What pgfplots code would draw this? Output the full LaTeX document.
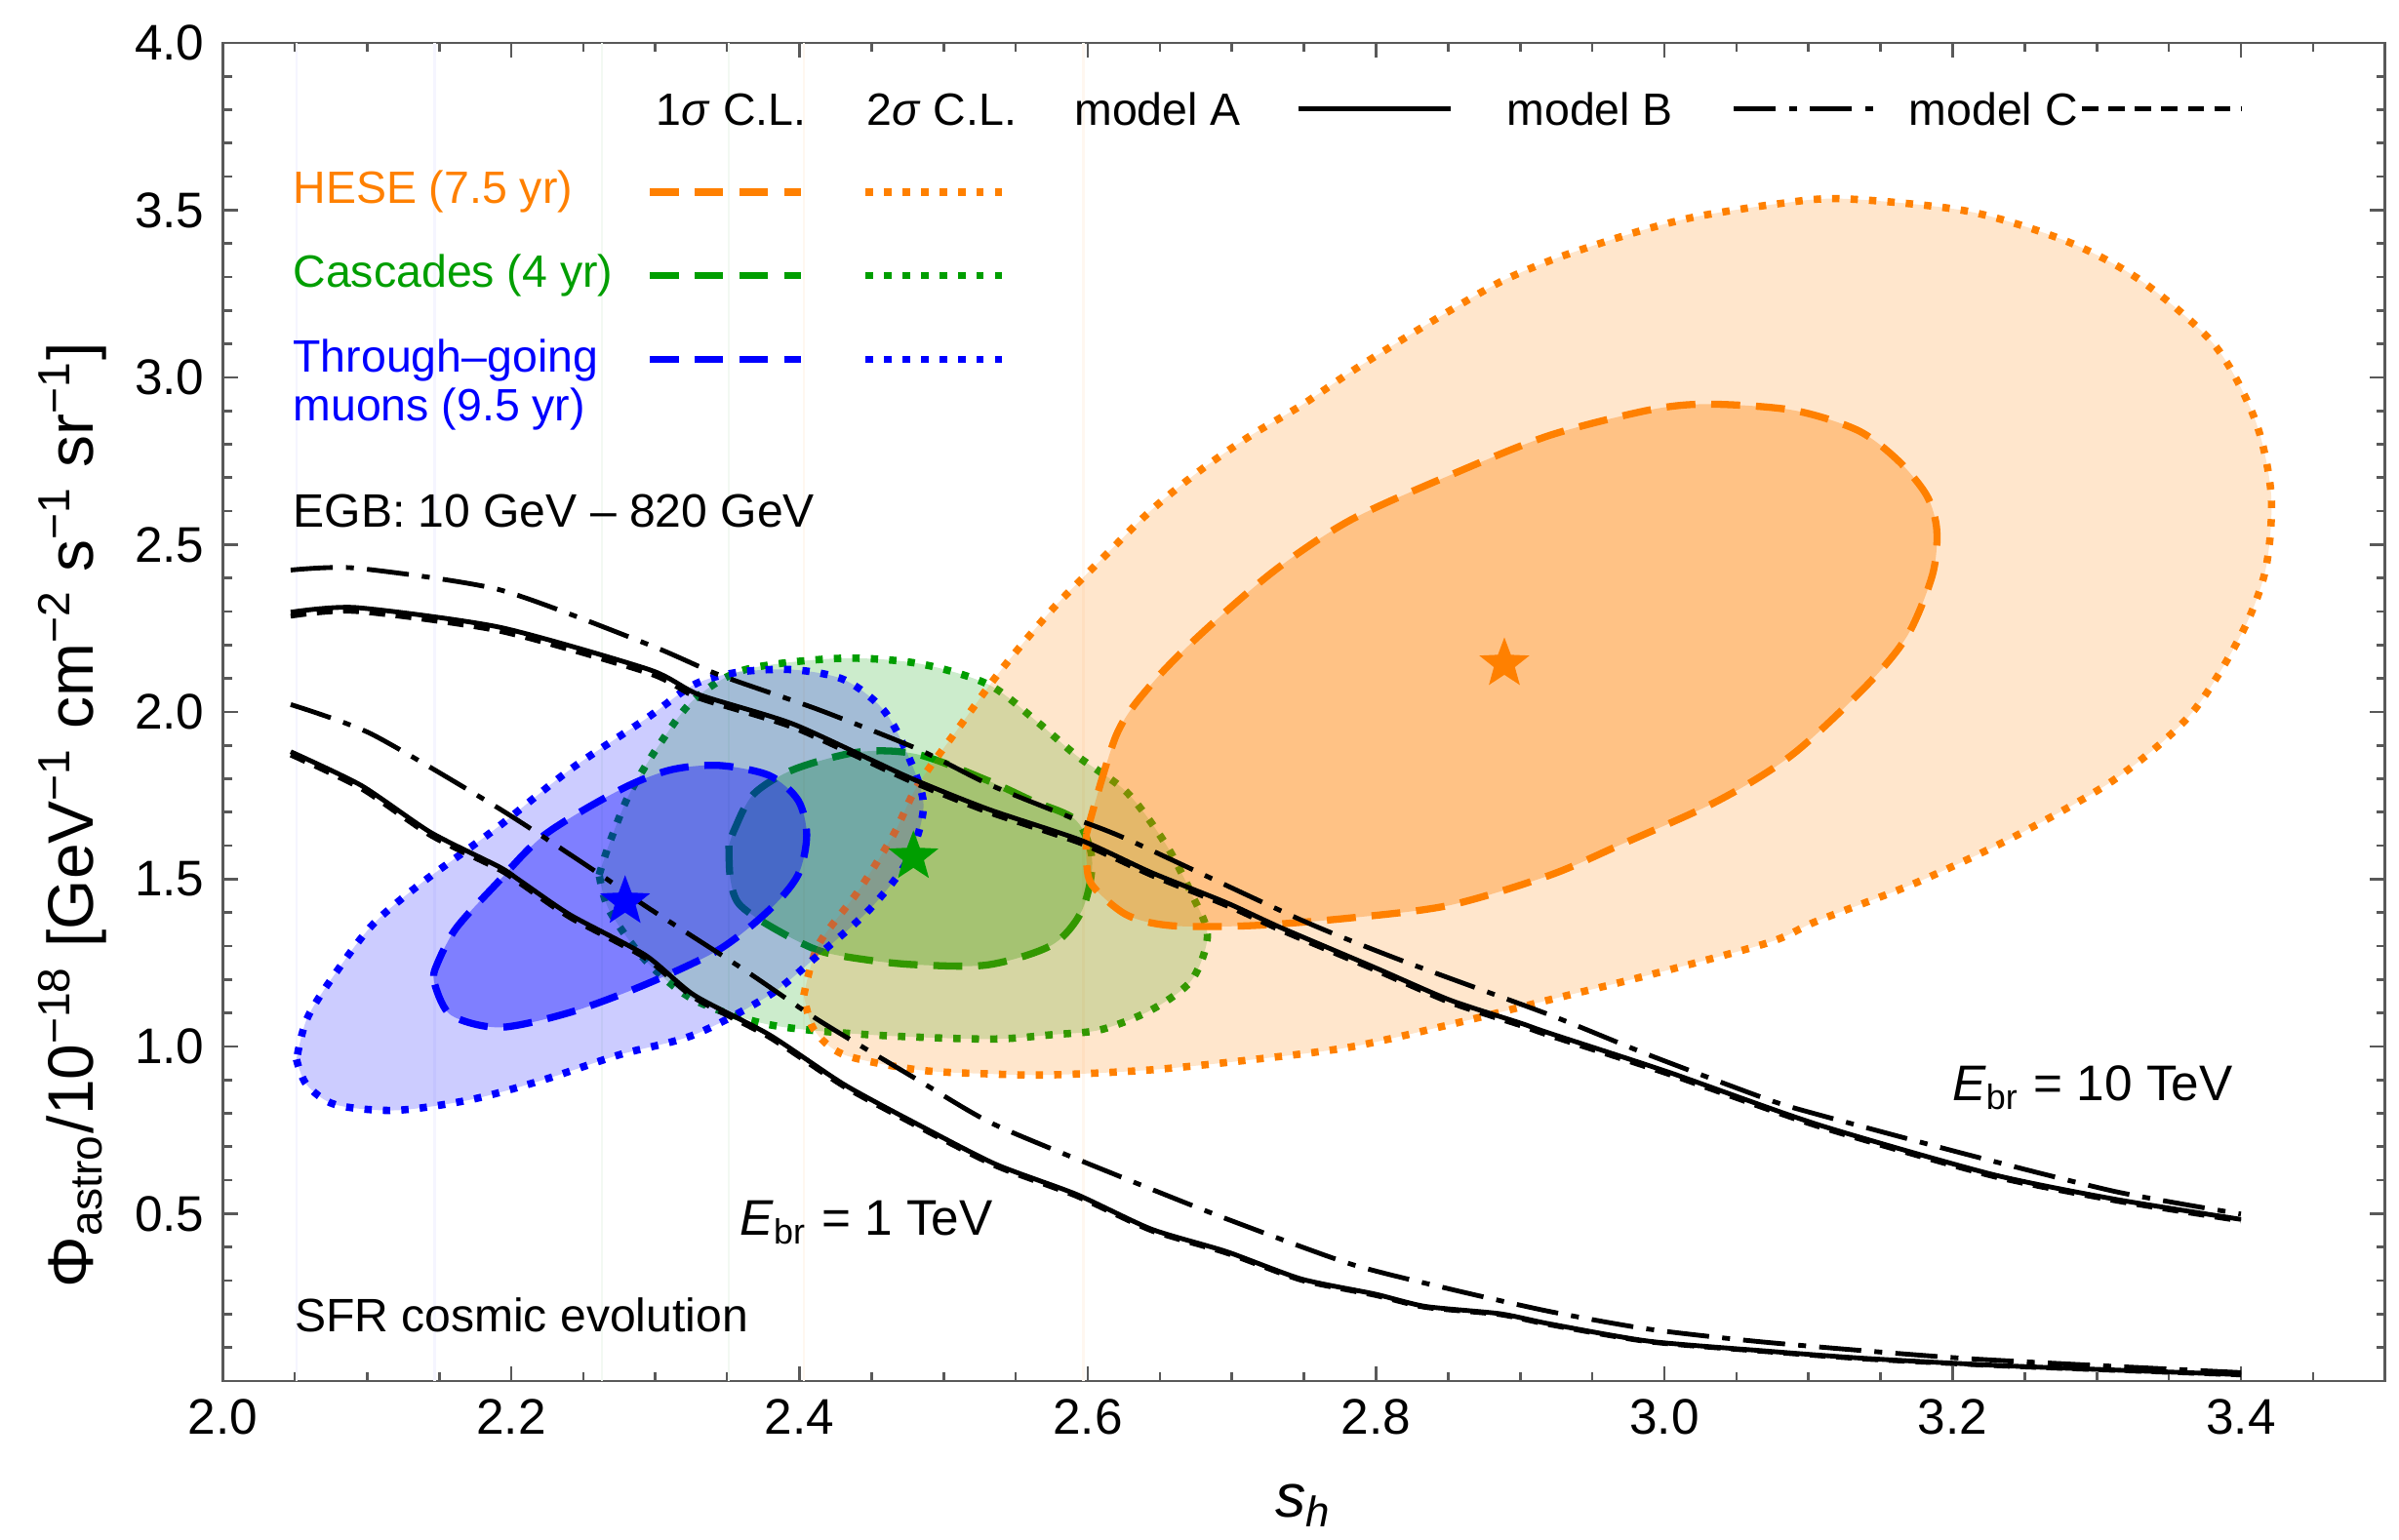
\documentclass[border=0pt]{standalone}
\usepackage{fontspec}
\setmainfont{Liberation Sans}
\usepackage{pgfplots}
\pgfplotsset{compat=1.18}

\definecolor{hese}{rgb}{1,0.5,0}
\definecolor{casc}{rgb}{0,0.62,0}
\definecolor{muon}{rgb}{0,0,1}

% filled five-pointed star for the best-fit points
\pgfdeclareplotmark{fstar}{%
  \pgfpathmoveto{\pgfpointpolar{90}{\pgfplotmarksize}}%
  \pgfpathlineto{\pgfpointpolar{126}{0.42\pgfplotmarksize}}%
  \pgfpathlineto{\pgfpointpolar{162}{\pgfplotmarksize}}%
  \pgfpathlineto{\pgfpointpolar{198}{0.42\pgfplotmarksize}}%
  \pgfpathlineto{\pgfpointpolar{234}{\pgfplotmarksize}}%
  \pgfpathlineto{\pgfpointpolar{270}{0.42\pgfplotmarksize}}%
  \pgfpathlineto{\pgfpointpolar{306}{\pgfplotmarksize}}%
  \pgfpathlineto{\pgfpointpolar{342}{0.42\pgfplotmarksize}}%
  \pgfpathlineto{\pgfpointpolar{18}{\pgfplotmarksize}}%
  \pgfpathlineto{\pgfpointpolar{54}{0.42\pgfplotmarksize}}%
  \pgfpathclose\pgfusepathqfill}

\tikzset{
  sigA/.style={line width=1.35pt, dash pattern=on 5.5pt off 3pt},
  sigB/.style={line width=1.4pt, dash pattern=on 1.4pt off 2.1pt},
  modA/.style={black, line width=0.9pt},
  modB/.style={black, line width=0.9pt, dash pattern=on 8pt off 2.5pt on 1.5pt off 2.5pt},
  modC/.style={black, line width=0.9pt, dash pattern=on 3pt off 2pt},
  txt/.style={inner sep=0pt, font=\fontsize{8.6}{10}\selectfont},
}

\begin{document}
\begin{tikzpicture}
\useasboundingbox (-1.487,-1.061) rectangle (14.513,9.213);
\begin{axis}[
  scale only axis,
  width=14.42cm, height=8.927cm,
  xmin=2, xmax=3.5, ymin=0, ymax=4,
  xtick={2.0,2.2,...,3.4},
  minor xtick={2.05,2.1,...,3.46},
  ytick={0.5,1.0,...,4.0},
  minor ytick={0.1,0.2,...,3.95},
  tick pos=both, xticklabel pos=lower, yticklabel pos=left,
  tick align=inside,
  major tick length=0.1cm, minor tick length=0.06cm,
  axis line style={black!65, line width=0.5pt},
  tick style={black!65, line width=0.5pt},
  ticklabel style={font=\fontsize{9.5}{11}\selectfont},
  xticklabel style={/pgf/number format/.cd, fixed, fixed zerofill, precision=1, assume math mode=true},
  yticklabel style={/pgf/number format/.cd, fixed, fixed zerofill, precision=1, assume math mode=true},
  xlabel={\textit{s}\textsubscript{\textit{h}}},
  ylabel={Φ\textsubscript{astro}/10\textsuperscript{−18} [GeV\textsuperscript{−1} cm\textsuperscript{−2} s\textsuperscript{−1} sr\textsuperscript{−1}]},
  label style={font=\fontsize{12.2}{14}\selectfont},
  xlabel style={font=\fontsize{11.6}{13}\selectfont, yshift=-0.09cm},
  ylabel style={at={(ticklabel cs:0.423)}, yshift=-0.05cm},
]

% faint vertical seams left by the region plots
\addplot[blue!4, line width=0.5pt] coordinates {(2.051,0) (2.051,4)};
\addplot[blue!4, line width=0.5pt] coordinates {(2.147,0) (2.147,4)};
\addplot[green!50!black!5, line width=0.5pt] coordinates {(2.263,0) (2.263,4)};
\addplot[green!50!black!5, line width=0.5pt] coordinates {(2.351,0) (2.351,4)};
\addplot[orange!6, line width=0.5pt] coordinates {(2.403,0) (2.403,4)};
\addplot[orange!6, line width=0.5pt] coordinates {(2.597,0) (2.597,4)};

% ---------------- Cascades (4 yr) ----------------
\addplot[draw=none, fill=casc, fill opacity=0.2, smooth, tension=0.5] coordinates {
 (2.261,1.513) (2.268,1.606) (2.282,1.755) (2.303,1.904) (2.327,2.038) (2.362,2.126)
 (2.427,2.160) (2.482,2.145) (2.531,2.082) (2.565,1.970) (2.592,1.870) (2.627,1.760)
 (2.654,1.605) (2.672,1.456) (2.683,1.332) (2.672,1.198) (2.644,1.109) (2.609,1.050)
 (2.575,1.035) (2.531,1.022) (2.448,1.035) (2.379,1.065) (2.327,1.139) (2.293,1.258)
 (2.268,1.407) (2.261,1.513)};
\addplot[draw=none, fill=casc, fill opacity=0.3, smooth, tension=0.5] coordinates {
 (2.351,1.600) (2.352,1.500) (2.358,1.426) (2.379,1.361) (2.413,1.287) (2.448,1.258)
 (2.482,1.244) (2.531,1.244) (2.575,1.303) (2.596,1.407) (2.603,1.556) (2.592,1.675)
 (2.561,1.735) (2.531,1.794) (2.482,1.873) (2.441,1.880) (2.396,1.828) (2.368,1.754)
 (2.355,1.650) (2.351,1.600)};
\addplot[casc, sigB, smooth, tension=0.5] coordinates {
 (2.261,1.513) (2.268,1.606) (2.282,1.755) (2.303,1.904) (2.327,2.038) (2.362,2.126)
 (2.427,2.160) (2.482,2.145) (2.531,2.082) (2.565,1.970) (2.592,1.870) (2.627,1.760)
 (2.654,1.605) (2.672,1.456) (2.683,1.332) (2.672,1.198) (2.644,1.109) (2.609,1.050)
 (2.575,1.035) (2.531,1.022) (2.448,1.035) (2.379,1.065) (2.327,1.139) (2.293,1.258)
 (2.268,1.407) (2.261,1.513)};
\addplot[casc, sigA, smooth, tension=0.5] coordinates {
 (2.351,1.600) (2.352,1.500) (2.358,1.426) (2.379,1.361) (2.413,1.287) (2.448,1.258)
 (2.482,1.244) (2.531,1.244) (2.575,1.303) (2.596,1.407) (2.603,1.556) (2.592,1.675)
 (2.561,1.735) (2.531,1.794) (2.482,1.873) (2.441,1.880) (2.396,1.828) (2.368,1.754)
 (2.355,1.650) (2.351,1.600)};

% ---------------- HESE (7.5 yr) ----------------
\addplot[draw=none, fill=hese, fill opacity=0.2, smooth, tension=0.5] coordinates {
 (2.403,1.153) (2.413,1.303) (2.441,1.466) (2.465,1.632) (2.482,1.781) (2.510,1.950)
 (2.540,2.126) (2.575,2.305) (2.609,2.454) (2.644,2.603) (2.678,2.722) (2.713,2.826)
 (2.748,2.916) (2.782,3.015) (2.817,3.110) (2.851,3.199) (2.886,3.285) (2.920,3.348)
 (2.955,3.400) (2.989,3.445) (3.024,3.482) (3.079,3.519) (3.124,3.534) (3.210,3.497)
 (3.279,3.407) (3.331,3.288) (3.382,3.095) (3.410,2.871) (3.421,2.647) (3.417,2.424)
 (3.400,2.230) (3.365,1.992) (3.313,1.800) (3.244,1.630) (3.175,1.490) (3.106,1.375)
 (3.072,1.310) (2.989,1.213) (2.920,1.139) (2.851,1.065) (2.782,0.998) (2.713,0.960)
 (2.644,0.930) (2.575,0.915) (2.531,0.918) (2.482,0.930) (2.431,0.975) (2.410,1.050)
 (2.403,1.153)};
\addplot[draw=none, fill=hese, fill opacity=0.35, smooth, tension=0.5] coordinates {
 (2.599,1.635) (2.620,1.933) (2.644,2.082) (2.678,2.231) (2.730,2.424) (2.782,2.573)
 (2.851,2.707) (2.920,2.826) (2.989,2.902) (3.030,2.920) (3.089,2.902) (3.134,2.842)
 (3.162,2.752) (3.182,2.647) (3.189,2.544) (3.186,2.410) (3.169,2.231) (3.141,2.082)
 (3.089,1.873) (3.037,1.734) (2.968,1.600) (2.920,1.511) (2.851,1.422) (2.782,1.384)
 (2.713,1.361) (2.658,1.361) (2.627,1.393) (2.603,1.482) (2.599,1.560) (2.599,1.635)};
\addplot[hese, sigB, smooth, tension=0.5] coordinates {
 (2.403,1.153) (2.413,1.303) (2.441,1.466) (2.465,1.632) (2.482,1.781) (2.510,1.950)
 (2.540,2.126) (2.575,2.305) (2.609,2.454) (2.644,2.603) (2.678,2.722) (2.713,2.826)
 (2.748,2.916) (2.782,3.015) (2.817,3.110) (2.851,3.199) (2.886,3.285) (2.920,3.348)
 (2.955,3.400) (2.989,3.445) (3.024,3.482) (3.079,3.519) (3.124,3.534) (3.210,3.497)
 (3.279,3.407) (3.331,3.288) (3.382,3.095) (3.410,2.871) (3.421,2.647) (3.417,2.424)
 (3.400,2.230) (3.365,1.992) (3.313,1.800) (3.244,1.630) (3.175,1.490) (3.106,1.375)
 (3.072,1.310) (2.989,1.213) (2.920,1.139) (2.851,1.065) (2.782,0.998) (2.713,0.960)
 (2.644,0.930) (2.575,0.915) (2.531,0.918) (2.482,0.930) (2.431,0.975) (2.410,1.050)
 (2.403,1.153)};
\addplot[hese, sigA, smooth, tension=0.5] coordinates {
 (2.599,1.635) (2.620,1.933) (2.644,2.082) (2.678,2.231) (2.730,2.424) (2.782,2.573)
 (2.851,2.707) (2.920,2.826) (2.989,2.902) (3.030,2.920) (3.089,2.902) (3.134,2.842)
 (3.162,2.752) (3.182,2.647) (3.189,2.544) (3.186,2.410) (3.169,2.231) (3.141,2.082)
 (3.089,1.873) (3.037,1.734) (2.968,1.600) (2.920,1.511) (2.851,1.422) (2.782,1.384)
 (2.713,1.361) (2.658,1.361) (2.627,1.393) (2.603,1.482) (2.599,1.560) (2.599,1.635)};

% ---------------- Through-going muons (9.5 yr) ----------------
\addplot[draw=none, fill=muon, fill opacity=0.2, smooth, tension=0.5] coordinates {
 (2.051,0.961) (2.058,0.886) (2.078,0.826) (2.120,0.809) (2.172,0.841) (2.223,0.901)
 (2.275,0.975) (2.327,1.035) (2.379,1.153) (2.413,1.273) (2.448,1.407) (2.475,1.556)
 (2.486,1.720) (2.475,1.873) (2.458,2.007) (2.431,2.096) (2.396,2.126) (2.358,2.119)
 (2.327,2.082) (2.293,1.978) (2.241,1.828) (2.189,1.650) (2.137,1.486) (2.103,1.360)
 (2.075,1.200) (2.058,1.080) (2.051,0.961)};
\addplot[draw=none, fill=muon, fill opacity=0.375, smooth, tension=0.5] coordinates {
 (2.147,1.185) (2.158,1.094) (2.192,1.057) (2.241,1.102) (2.293,1.185) (2.344,1.289)
 (2.379,1.408) (2.399,1.513) (2.405,1.632) (2.399,1.736) (2.379,1.810) (2.344,1.840)
 (2.310,1.826) (2.275,1.766) (2.223,1.632) (2.189,1.483) (2.161,1.349) (2.147,1.229)
 (2.147,1.185)};
\addplot[muon, sigB, smooth, tension=0.5] coordinates {
 (2.051,0.961) (2.058,0.886) (2.078,0.826) (2.120,0.809) (2.172,0.841) (2.223,0.901)
 (2.275,0.975) (2.327,1.035) (2.379,1.153) (2.413,1.273) (2.448,1.407) (2.475,1.556)
 (2.486,1.720) (2.475,1.873) (2.458,2.007) (2.431,2.096) (2.396,2.126) (2.358,2.119)
 (2.327,2.082) (2.293,1.978) (2.241,1.828) (2.189,1.650) (2.137,1.486) (2.103,1.360)
 (2.075,1.200) (2.058,1.080) (2.051,0.961)};
\addplot[muon, sigA, smooth, tension=0.5] coordinates {
 (2.147,1.185) (2.158,1.094) (2.192,1.057) (2.241,1.102) (2.293,1.185) (2.344,1.289)
 (2.379,1.408) (2.399,1.513) (2.405,1.632) (2.399,1.736) (2.379,1.810) (2.344,1.840)
 (2.310,1.826) (2.275,1.766) (2.223,1.632) (2.189,1.483) (2.161,1.349) (2.147,1.229)
 (2.147,1.185)};

% best-fit points
\addplot[hese, only marks, mark=fstar, mark size=5pt] coordinates {(2.889,2.144)};
\addplot[casc, only marks, mark=fstar, mark size=5pt] coordinates {(2.479,1.567)};
\addplot[muon, only marks, mark=fstar, mark size=5pt] coordinates {(2.279,1.433)};

% ---------------- model curves, E_br = 10 TeV ----------------
\addplot[modC, smooth, tension=0.4] coordinates {
 (2.047,2.286) (2.092,2.300) (2.192,2.241) (2.296,2.114) (2.330,2.041) (2.396,1.952)
 (2.475,1.796) (2.531,1.699) (2.596,1.605) (2.644,1.511) (2.696,1.421) (2.734,1.346)
 (2.799,1.228) (2.851,1.131) (2.900,1.062) (2.920,1.032) (3.003,0.916) (3.106,0.761)
 (3.227,0.612) (3.313,0.538) (3.400,0.478)};
\addplot[modA, smooth, tension=0.4] coordinates {
 (2.047,2.298) (2.092,2.312) (2.192,2.253) (2.296,2.126) (2.330,2.052) (2.396,1.963)
 (2.475,1.806) (2.531,1.709) (2.596,1.615) (2.644,1.520) (2.696,1.430) (2.734,1.355)
 (2.799,1.236) (2.851,1.139) (2.900,1.070) (2.920,1.040) (3.003,0.923) (3.106,0.767)
 (3.227,0.618) (3.313,0.543) (3.400,0.483)};
\addplot[modB, smooth, tension=0.4] coordinates {
 (2.047,2.424) (2.092,2.430) (2.192,2.365) (2.296,2.200) (2.344,2.111) (2.413,2.007)
 (2.482,1.889) (2.531,1.784) (2.585,1.690) (2.627,1.620) (2.748,1.378) (2.817,1.258)
 (2.920,1.095) (2.989,0.975) (3.072,0.841) (3.106,0.797) (3.210,0.677) (3.313,0.566)
 (3.400,0.499)};

% ---------------- model curves, E_br = 1 TeV ----------------
\addplot[modC, smooth, tension=0.4] coordinates {
 (2.047,1.871) (2.096,1.770) (2.144,1.630) (2.192,1.527) (2.206,1.487) (2.241,1.384)
 (2.293,1.264) (2.327,1.145) (2.379,1.027) (2.431,0.879) (2.482,0.760) (2.536,0.642)
 (2.592,0.552) (2.644,0.449) (2.696,0.382) (2.748,0.301) (2.799,0.256) (2.834,0.220)
 (2.886,0.198) (2.920,0.168) (2.989,0.117) (3.072,0.087) (3.141,0.065) (3.244,0.043)
 (3.400,0.018)};
\addplot[modA, smooth, tension=0.4] coordinates {
 (2.047,1.881) (2.096,1.780) (2.144,1.640) (2.192,1.536) (2.206,1.496) (2.241,1.393)
 (2.293,1.273) (2.327,1.153) (2.379,1.035) (2.431,0.886) (2.482,0.767) (2.536,0.648)
 (2.592,0.558) (2.644,0.454) (2.696,0.387) (2.748,0.305) (2.799,0.260) (2.834,0.223)
 (2.886,0.201) (2.920,0.171) (2.989,0.119) (3.072,0.089) (3.141,0.067) (3.244,0.044)
 (3.400,0.019)};
\addplot[modB, smooth, tension=0.4] coordinates {
 (2.047,2.022) (2.103,1.934) (2.192,1.710) (2.261,1.516) (2.293,1.420) (2.362,1.228)
 (2.413,1.079) (2.482,0.900) (2.535,0.767) (2.627,0.603) (2.696,0.485) (2.782,0.350)
 (2.851,0.275) (2.920,0.208) (2.989,0.155) (3.072,0.115) (3.210,0.067) (3.400,0.025)};

% ---------------- legend ----------------
\node[txt, anchor=base west] at (axis cs:2.300,3.754) {1\textit{σ} C.L.};
\node[txt, anchor=base west] at (axis cs:2.446,3.754) {2\textit{σ} C.L.};
\node[txt, anchor=base west] at (axis cs:2.590,3.754) {model A};
\node[txt, anchor=base west] at (axis cs:2.890,3.754) {model B};
\node[txt, anchor=base west] at (axis cs:3.169,3.754) {model C};
\addplot[modA] coordinates {(2.746,3.803) (2.852,3.803)};
\addplot[modB] coordinates {(3.048,3.803) (3.150,3.803)};
\addplot[modC] coordinates {(3.290,3.803) (3.400,3.803)};

\node[txt, anchor=base west, text=hese] at (axis cs:2.048,3.520) {HESE (7.5 yr)};
\node[txt, anchor=base west, text=casc] at (axis cs:2.048,3.270) {Cascades (4 yr)};
\node[txt, anchor=base west, text=muon] at (axis cs:2.048,3.015) {Through–going};
\node[txt, anchor=base west, text=muon] at (axis cs:2.048,2.869) {muons (9.5 yr)};
\addplot[hese, sigA] coordinates {(2.296,3.554) (2.401,3.554)};
\addplot[hese, sigB] coordinates {(2.446,3.554) (2.542,3.554)};
\addplot[casc, sigA] coordinates {(2.296,3.304) (2.401,3.304)};
\addplot[casc, sigB] coordinates {(2.446,3.304) (2.542,3.304)};
\addplot[muon, sigA] coordinates {(2.296,3.054) (2.401,3.054)};
\addplot[muon, sigB] coordinates {(2.446,3.054) (2.542,3.054)};

\node[inner sep=0pt, anchor=base west, font=\fontsize{8.9}{10}\selectfont] at (axis cs:2.048,2.553) {EGB: 10 GeV – 820 GeV};
\node[inner sep=0pt, anchor=base west, font=\fontsize{8.9}{10}\selectfont] at (axis cs:2.049,0.147) {SFR cosmic evolution};
\node[inner sep=0pt, anchor=base west, font=\fontsize{9.5}{11}\selectfont] at (axis cs:2.358,0.437) {\textit{E}\textsubscript{br} = 1 TeV};
\node[inner sep=0pt, anchor=base west, font=\fontsize{9.5}{11}\selectfont] at (axis cs:3.199,0.838) {\textit{E}\textsubscript{br} = 10 TeV};
\end{axis}
\end{tikzpicture}
\end{document}
